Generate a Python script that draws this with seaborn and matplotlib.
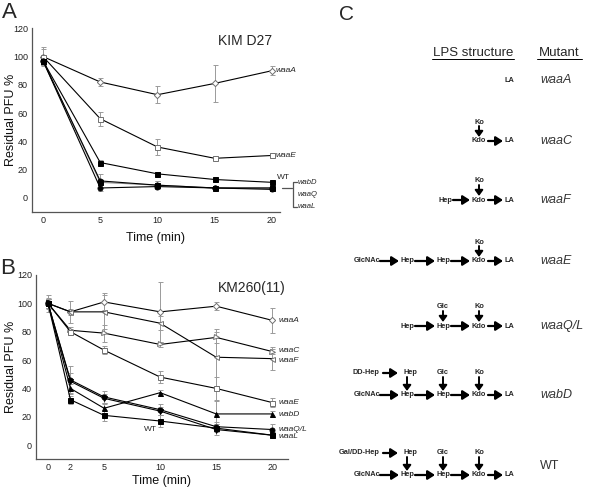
import matplotlib
matplotlib.use("Agg")
import matplotlib.pyplot as plt
import numpy as np
import pandas as pd
import seaborn as sns

# ---- Panel A : KIM D27 ----
time_a = [0, 5, 10, 15, 20]
a_waaA = [100, 82, 73, 81, 90]
a_waaA_err = [7, 3, 6, 13, 3]
a_waaE = [100, 56, 36, 28, 30]
a_waaE_err = [5, 5, 6, 1.5, 2]
a_wt = [97, 25, 17, 13, 11]
a_wt_err = [3, 2, 1, 1, 1]
a_wabD = [97, 12, 9, 7, 7]
a_wabD_err = [3, 5, 3, 1, 1]
a_waaQ = [97, 11, 9, 7, 7]
a_waaQ_err = [3, 2, 3, 1, 1]
a_waaL = [97, 7, 8, 7, 6]
a_waaL_err = [3, 2, 1, 1, 1]

# ---- Panel B : KM260(11) ----
time_b = [0, 2, 5, 10, 15, 20]
b_waaA = [100, 94, 101, 94, 98, 88]
b_waaA_err = [6, 8, 6, 21, 3, 9]
b_waaC = [100, 81, 79, 71, 76, 66]
b_waaC_err = [3, 2, 6, 2, 4, 2]
b_waaF = [100, 94, 94, 86, 62, 61]
b_waaF_err = [4, 2, 12, 5, 20, 8]
b_waaE = [100, 80, 67, 48, 40, 30]
b_waaE_err = [2, 2, 3, 4, 8, 3]
b_wabD = [100, 40, 26, 37, 22, 22]
b_wabD_err = [3, 3, 3, 2, 9, 2]
b_waaQ = [100, 46, 34, 25, 13, 11]
b_waaQ_err = [3, 10, 4, 4, 3, 4]
b_waaL = [100, 45, 33, 24, 11, 7]
b_waaL_err = [3, 6, 3, 3, 4, 2]
b_wt = [100, 32, 21, 17, 12, 7]
b_wt_err = [3, 3, 4, 4, 3, 2]

# ---- Panel C : LPS structures ----
mutants = ["waaA", "waaC", "waaF", "waaE", "waaQ/L", "wabD", "WT"]
main_chains = [
    ["LA"],
    ["Kdo", "LA"],
    ["Hep", "Kdo", "LA"],
    ["GlcNAc", "Hep", "Hep", "Kdo", "LA"],
    ["Hep", "Hep", "Kdo", "LA"],
    ["GlcNAc", "Hep", "Hep", "Kdo", "LA"],
    ["GlcNAc", "Hep", "Hep", "Kdo", "LA"],
]
branches = [
    [],
    ["Ko"],
    ["Ko"],
    ["Ko"],
    ["Glc", "Ko"],
    ["Hep", "Glc", "Ko"],
    ["Hep", "Glc", "Ko"],
]
side_chains = [None, None, None, None, None, "DD-Hep", "Gal/DD-Hep"]

sns.set_theme(style="white")
plt.rcParams["font.family"] = ["Liberation Sans", "DejaVu Sans"]

W, H = 592, 488
fig = plt.figure(figsize=(W / 100, H / 100), dpi=100)

ax_a = fig.add_axes([32 / W, 1 - 212 / H, 248 / W, 183.7 / H])
ax_b = fig.add_axes([36 / W, 1 - 459.3 / H, 252 / W, 184.3 / H])


def draw_series(ax, x, y, err, marker, filled, color="black", ms=3.6):
    ax.errorbar(x, y, yerr=err, fmt="none", ecolor="#9a9a9a",
                elinewidth=0.7, capsize=1.8, capthick=0.7, zorder=1)
    sns.lineplot(x=x, y=y, ax=ax, color=color, lw=0.8, marker=marker,
                 markersize=ms,
                 markerfacecolor="black" if filled else "white",
                 markeredgecolor="black" if filled else "#707070",
                 markeredgewidth=0.7, zorder=3)


def style_axes(ax, xticks, xlim, labelpad, ylab_x):
    ax.set_xlim(xlim)
    ax.set_ylim(-10, 120)
    ax.set_xticks(xticks)
    ax.set_yticks(range(0, 121, 20))
    ax.tick_params(length=0, labelsize=6.5, pad=3, colors="#222222")
    for s in ["top", "right"]:
        ax.spines[s].set_visible(False)
    for s in ["left", "bottom"]:
        ax.spines[s].set_color("#555555")
        ax.spines[s].set_linewidth(0.9)
    ax.set_xlabel("Time (min)", fontsize=9, labelpad=labelpad, color="#111111")
    ax.set_ylabel("Residual PFU %", fontsize=9, color="#111111")
    ax.yaxis.set_label_coords(ylab_x, 0.5)


# panel A
draw_series(ax_a, time_a, a_waaA, a_waaA_err, "D", False, ms=3.2)
draw_series(ax_a, time_a, a_waaE, a_waaE_err, "s", False)
draw_series(ax_a, time_a, a_waaQ, a_waaQ_err, "s", True, color="#8a8a8a")
draw_series(ax_a, time_a, a_wabD, a_wabD_err, "o", True)
draw_series(ax_a, time_a, a_waaL, a_waaL_err, "o", True)
draw_series(ax_a, time_a, a_wt, a_wt_err, "s", True)
style_axes(ax_a, time_a, (-0.96, 20.7), 5, -0.06)
ax_a.text(0.97, 0.93, "KIM D27", transform=ax_a.transAxes, ha="right",
          va="center", fontsize=10)
lab_kw = dict(fontsize=6, style="italic", va="center", clip_on=False)
ax_a.text(20.35, a_waaA[-1], "waaA", **lab_kw)
ax_a.text(20.35, a_waaE[-1], "waaE", **lab_kw)
ax_a.text(20.45, 14.5, "WT", fontsize=6, va="center", clip_on=False)

# panel B
draw_series(ax_b, time_b, b_waaA, b_waaA_err, "D", False, ms=3.2)
draw_series(ax_b, time_b, b_waaC, b_waaC_err, ">", False)
draw_series(ax_b, time_b, b_waaF, b_waaF_err, "<", False)
draw_series(ax_b, time_b, b_waaE, b_waaE_err, "s", False)
draw_series(ax_b, time_b, b_wabD, b_wabD_err, "^", True)
draw_series(ax_b, time_b, b_waaQ, b_waaQ_err, "o", True)
draw_series(ax_b, time_b, b_waaL, b_waaL_err, "v", True)
draw_series(ax_b, time_b, b_wt, b_wt_err, "s", True)
style_axes(ax_b, time_b, (-1.07, 21.4), 1.5, -0.075)
ax_b.text(0.99, 0.93, "KM260(11)", transform=ax_b.transAxes, ha="right",
          va="center", fontsize=10)
for name, yv in [("waaA", b_waaA[-1]), ("waaC", b_waaC[-1] + 0.5),
                 ("waaF", b_waaF[-1] - 1), ("waaE", b_waaE[-1]),
                 ("wabD", b_wabD[-1] - 0.5), ("waaQ/L", b_waaQ[-1]),
                 ("waaL", b_waaL[-1] - 1)]:
    ax_b.text(20.6, yv, name, **lab_kw)
ax_b.text(9.1, 11.3, "WT", fontsize=6, ha="center", va="center")

# overlay for panel letters, bracket and the structure diagram
ov = fig.add_axes([0, 0, 1, 1])
ov.set_xlim(0, W)
ov.set_ylim(H, 0)
ov.axis("off")

ov.text(9, 12, "A", fontsize=16, ha="center", va="center")
ov.text(8, 269, "B", fontsize=16, ha="center", va="center")
ov.text(346, 14, "C", fontsize=15, ha="center", va="center")

# bracket grouping wabD / waaQ / waaL in panel A
br = "#555555"
ov.plot([282, 292], [188, 188], color=br, lw=0.9)
ov.plot([297, 293, 293, 297], [182, 182, 207, 207], color=br, lw=0.9)
for name, yy in zip(["wabD", "waaQ", "waaL"], [182, 194, 206]):
    ov.text(298, yy, name, fontsize=5.5, style="italic", va="center")

# headers
ov.text(473, 53, "LPS structure", fontsize=9.5, ha="center", va="center")
ov.plot([432, 514], [59, 59], color="black", lw=0.7)
ov.text(559.5, 53, "Mutant", fontsize=9.5, ha="center", va="center")
ov.plot([537, 582], [59, 59], color="black", lw=0.7)

row_y = [80, 141, 200, 261, 326, 395, 475]
label_y = [80, 141, 200, 261, 326, 395, 466]
col_x = {5: [367, 407, 443, 479, 509], 4: [407, 443, 479, 509],
         3: [445, 479, 509], 2: [479, 509], 1: [509]}
gap = {"GlcNAc": 12, "Hep": 7, "Kdo": 8, "LA": 5}
txt_kw = dict(fontsize=5.3, fontweight="bold", ha="center", va="center")
arrow_kw = dict(arrowstyle="-|>,head_length=0.7,head_width=0.45",
                color="black", lw=1.6, mutation_scale=6,
                shrinkA=0, shrinkB=0)
down_kw = dict(arrowstyle="-|>,head_length=0.55,head_width=0.4",
               color="black", lw=1.4, mutation_scale=6,
               shrinkA=0, shrinkB=0)

for i, mut in enumerate(mutants):
    y = row_y[i]
    chain = main_chains[i]
    xs = col_x[len(chain)]
    for name, x in zip(chain, xs):
        ov.text(x, y, name, **txt_kw)
    for k in range(len(chain) - 1):
        x0 = xs[k] + gap[chain[k]] + 1
        x1 = xs[k + 1] - gap[chain[k + 1]] - 1
        ov.annotate("", xy=(x1, y), xytext=(x0, y), arrowprops=arrow_kw)
    nb = len(branches[i])
    top_y = y - (22 if nb == 3 else 19)
    for name, x in zip(branches[i], xs[-1 - nb:-1]):
        bx = x if name != "Hep" else x + 3
        ov.text(bx, top_y, name, **txt_kw)
        ov.annotate("", xy=(x, y - 4), xytext=(x, top_y + 4),
                    arrowprops=down_kw)
    if side_chains[i]:
        sx = 366 if side_chains[i] == "DD-Hep" else 359
        ov.text(sx, top_y, side_chains[i], **txt_kw)
        ov.annotate("", xy=(398, top_y), xytext=(383, top_y),
                    arrowprops=arrow_kw)
    ov.text(540, label_y[i], mut, fontsize=9, style="italic" if mut != "WT" else "normal",
            ha="left", va="center", color="#333333")

fig.savefig("out.png", dpi=100)
